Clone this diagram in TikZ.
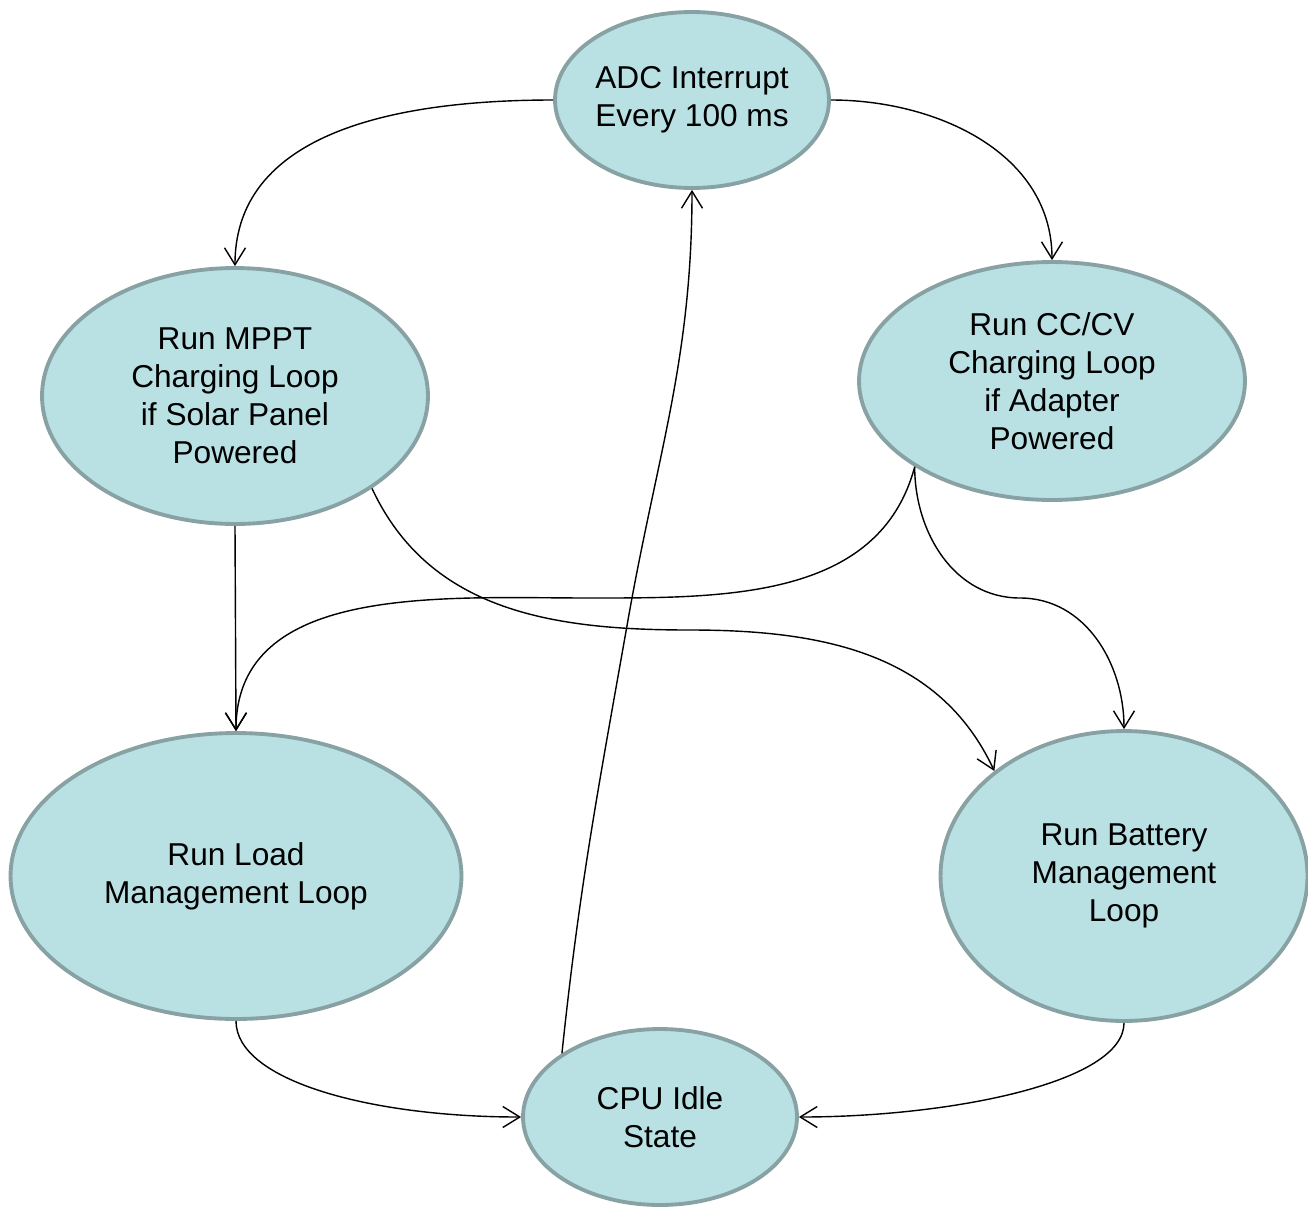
\documentclass[tikz,border=0pt]{standalone}
\usepackage{fontspec}
\setmainfont{Liberation Sans}
\usepackage{xcolor}
\usepackage{tikz}
\usetikzlibrary{shapes.geometric}
\usetikzlibrary{arrows.meta}
\usetikzlibrary{positioning}

\definecolor{statefill}{HTML}{B9E1E4}
\definecolor{stateline}{HTML}{88A2A4}

\tikzset{
	state/.style={ellipse, draw=stateline, fill=statefill, line width=2.2pt, inner sep=0pt, align=center,
		font=\fontsize{18}{21.6}\selectfont},
	flow/.style={draw=black, line width=0.8pt, -{Straight Barb[length=0.34cm, width=0.42cm, line width=0.8pt]}}
}

\begin{document}
\begin{tikzpicture}[x=0.02cm, y=-0.02cm]
	\useasboundingbox (0,0) rectangle (1308,1207);

%states
	\node[state, minimum width=5.48cm, minimum height=3.52cm] (adc) at (692,100) {ADC Interrupt\\Every 100 ms};
	\node[state, minimum width=7.72cm, minimum height=5.12cm] (mppt) at (235,396) {Run MPPT\\Charging Loop\\if Solar Panel\\Powered};
	\node[state, minimum width=7.72cm, minimum height=4.76cm] (cccv) at (1052,381) {Run CC/CV\\Charging Loop\\if Adapter\\Powered};
	\node[state, minimum width=9.02cm, minimum height=5.72cm] (load) at (236,876) {Run Load\\Management Loop};
	\node[state, minimum width=7.34cm, minimum height=5.8cm] (batt) at (1124,876) {Run Battery\\Management\\Loop};
	\node[state, minimum width=5.48cm, minimum height=3.52cm] (cpu) at (660,1117) {CPU Idle\\State};

%bends
	\coordinate (m1) at (590,598);
	\coordinate (m2) at (690,630);
	\coordinate (m3) at (1020,598);
	\coordinate (m4) at (628,620);

%interrupt to charging loops
	\draw[flow] (adc.west) to[out=180, in=90] (mppt.north);
	\draw[flow] (adc.east) to[out=0, in=90] (cccv.north);

%charging loops to load / battery
	\draw[flow] (mppt.south) -- (load.north);
	\draw[flow] (cccv.212) to[out=-105, in=0] (m1) to[out=180, in=90] (load.north);
	\draw[flow] (mppt.326) to[out=-65, in=180] (m2) to[out=0, in=115] (batt.141);
	\draw[flow] (cccv.212) to[out=-90, in=180] (m3) to[out=0, in=90] (batt.north);

%back to idle
	\draw[flow] (load.south) .. controls +(0,60) and +(-150,0) .. (cpu.west);
	\draw[flow] (batt.south) .. controls +(0,60) and +(150,0) .. (cpu.east);
	\draw[flow] (cpu.147) to[out=84, in=-100] (m4) to[out=80, in=-90] (adc.south);
\end{tikzpicture}
\end{document}
